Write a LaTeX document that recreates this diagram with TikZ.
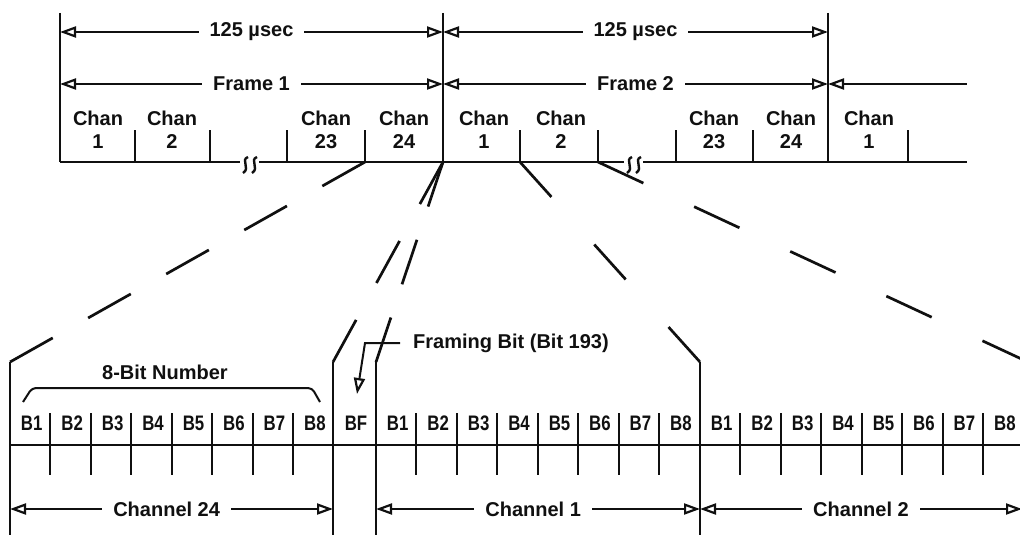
\documentclass[tikz,border=0pt]{standalone}
\usepackage{fontspec}
\setmainfont{Liberation Sans}
\usetikzlibrary{arrows.meta,calc}
\definecolor{ink}{HTML}{101010}
\tikzset{
  otri/.tip={Triangle[open, length=16pt, width=11pt, line width=2.2pt]},
  rule/.style={line width=2.3pt, color=ink},
  tick/.style={line width=2pt, color=ink},
  fan/.style={line width=2.7pt, color=ink, dash pattern=#1},
  span/.style={otri-otri, line width=2pt, color=ink},
  spanl/.style={otri-, line width=2pt, color=ink},
  lbl/.style={font=\fontsize{20}{23}\selectfont\bfseries, text=ink, inner sep=0pt},
  chan/.style={lbl, align=center},
  bit/.style={lbl, font=\fontsize{21}{23}\selectfont\bfseries},
  gaplbl/.style={lbl, fill=white, inner xsep=11pt, inner ysep=1pt, midway},
  gapmark/.pic={\draw[line width=2.4pt, color=ink] (3,-8) .. controls (-5,-5) and (6,3) .. (-2,8);},
}

\begin{document}
\begin{tikzpicture}[x=1pt, y=-1pt]
  \useasboundingbox (0,0) rectangle (1020,535);

  \coordinate (f1) at (60,162);
  \coordinate (f2) at (443,162);
  \coordinate (f3) at (828,162);
  \coordinate (t24) at (365,162);
  \coordinate (t2) at (520,162);
  \coordinate (t3) at (598,162);

  \draw[rule] (60,13) -- (f1);
  \draw[rule] (443,13) -- (f2);
  \draw[rule] (828,13) -- (f3);

  \draw[span] (60,32) -- (443,32) node[gaplbl] (us1) {125 µsec};
  \draw[span] (443,32) -- (828,32) node[gaplbl] (us2) {125 µsec};
  \draw[span] (60,84) -- (443,84) node[gaplbl] (fr1) {Frame 1};
  \draw[span] (443,84) -- (828,84) node[gaplbl] (fr2) {Frame 2};
  \draw[spanl] (828,84) -- (967,84);

  \draw[rule] (f1) -- (240,162) (259,162) -- (624,162) (643,162) -- (967,162);
  \pic at (245,165) {gapmark};
  \pic at (254,165) {gapmark};
  \pic at (629,165) {gapmark};
  \pic at (638,165) {gapmark};
  \foreach \x in {135,210,287,365,520,598,676,753,908}
    \draw[tick] (\x,130) -- (\x,162);

  \node[chan] (ch1a) at (98,129.5) {Chan\\1};
  \node[chan] (ch2a) at (172,129.5) {Chan\\2};
  \node[chan] (ch23a) at (326,129.5) {Chan\\23};
  \node[chan] (ch24a) at (404,129.5) {Chan\\24};
  \node[chan] (ch1b) at (484,129.5) {Chan\\1};
  \node[chan] (ch2b) at (561,129.5) {Chan\\2};
  \node[chan] (ch23b) at (714,129.5) {Chan\\23};
  \node[chan] (ch24b) at (791,129.5) {Chan\\24};
  \node[chan] (ch1c) at (869,129.5) {Chan\\1};

  \coordinate (c24) at (10,362);
  \coordinate (cf1) at (333,362);
  \coordinate (cf2) at (376,362);
  \coordinate (c1) at (700,362);
  \coordinate (c2) at (1028,362);

  \draw[fan={on 49pt off 40.6pt}] (t24) -- (c24);
  \draw[fan={on 48pt off 42.1pt}] (f2) -- (cf1);
  \draw[fan={on 47pt off 35pt}] (f2) -- (cf2);
  \draw[fan={on 47pt off 64pt}] (t2) -- (c1);
  \draw[fan={on 50pt off 56pt}] (t3) -- (c2);

  \draw[rule] (c24) -- (10,540);
  \draw[rule] (cf1) -- (333,540);
  \draw[rule] (cf2) -- (376,540);
  \draw[rule] (c1) -- (700,540);

  \draw[rule] (10,445) -- (1030,445);
  \foreach \x/\ch in {10/a,376/b,700/c} {
    \foreach \i in {1,...,8}
      \node[bit] (\ch\i) at ({\x+(\i-.5)*40.45+1.5},423) {\scalebox{.8}[1]{B\i}};
    \foreach \i in {1,...,7}
      \draw[tick] ({\x+\i*40.45},413) -- ({\x+\i*40.45},475);
  }
  \node[bit] (bf) at (356,423) {\scalebox{.8}[1]{BF}};

  \draw[tick, rounded corners=4pt] (23,402) -- (32,388) -- (312,388) -- (320,402);
  \node[lbl] (eightbit) at (165,372) {8-Bit Number};

  \node[lbl, anchor=west] (fbit) at (413,343) {Framing Bit (Bit 193)};
  \coordinate (fbtip) at (357,394);
  \draw[tick, -otri] ($(fbit.west)+(-13,0)$) -- (365,343) -- (fbtip);

  \draw[span] (10,509) -- (333,509) node[gaplbl, pos=.485] (chn24) {Channel 24};
  \draw[span] (376,509) -- (700,509) node[gaplbl, pos=.485] (chn1) {Channel 1};
  \draw[span] (700,509) -- (1022,509) node[gaplbl] (chn2) {Channel 2};
\end{tikzpicture}
\end{document}
